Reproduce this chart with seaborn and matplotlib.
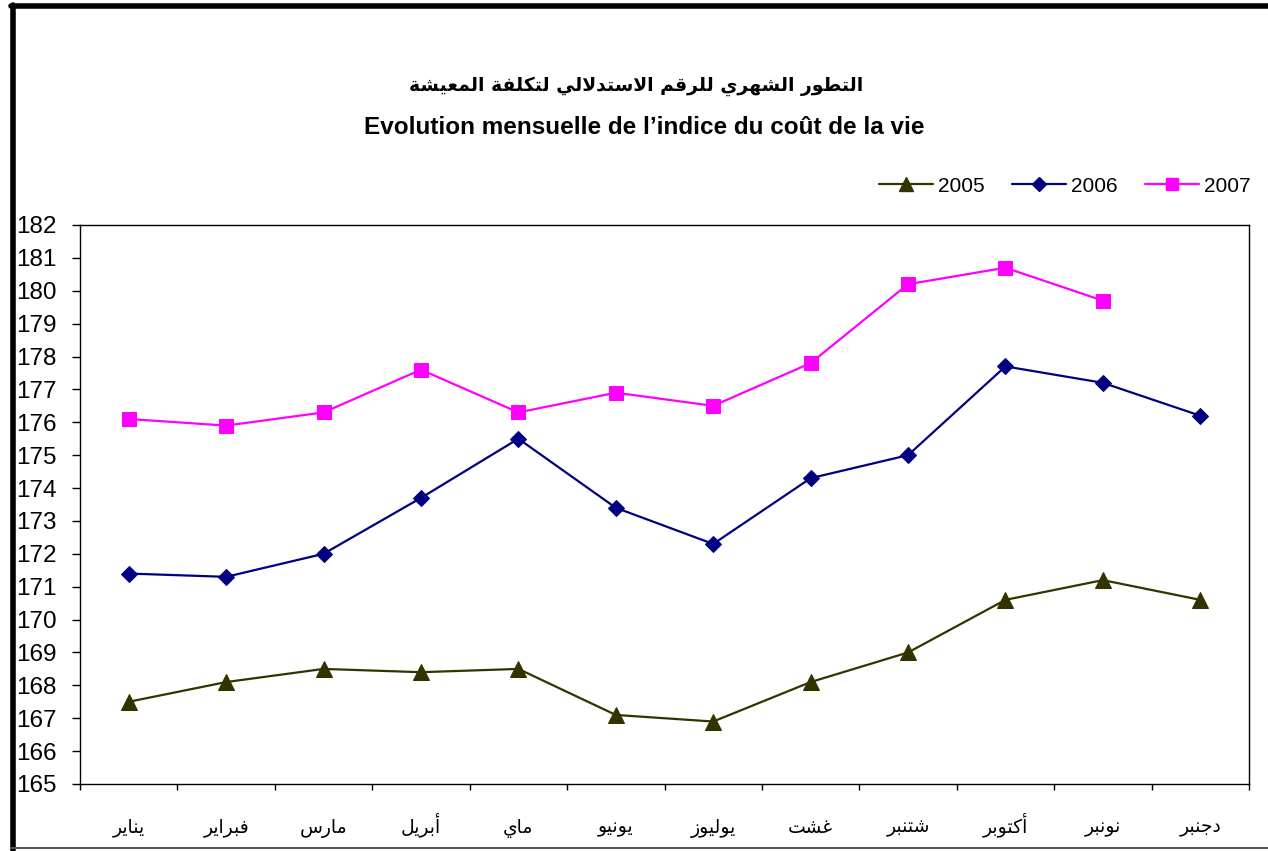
import pandas as pd
import matplotlib.pyplot as plt
import seaborn as sns
from matplotlib.lines import Line2D

# Données
mois = ['يناير', 'فبراير', 'مارس', 'أبريل', 'ماي', 'يونيو',
        'يوليوز', 'غشت', 'شتنبر', 'أكتوبر', 'نونبر', 'دجنبر']
v2005 = [167.5, 168.1, 168.5, 168.4, 168.5, 167.1, 166.9, 168.1, 169.0, 170.6, 171.2, 170.6]
v2006 = [171.4, 171.3, 172.0, 173.7, 175.5, 173.4, 172.3, 174.3, 175.0, 177.7, 177.2, 176.2]
v2007 = [176.1, 175.9, 176.3, 177.6, 176.3, 176.9, 176.5, 177.8, 180.2, 180.7, 179.7]
titre_ar = 'التطور الشهري للرقم الاستدلالي لتكلفة المعيشة'
titre_fr = 'Evolution mensuelle de l’indice du coût de la vie'

# Formes contextuelles arabes (isolée, finale, initiale, médiane)
FORMS = {
    'ا': (0xFE8D, 0xFE8E, None, None), 'أ': (0xFE83, 0xFE84, None, None),
    'ب': (0xFE8F, 0xFE90, 0xFE91, 0xFE92), 'ة': (0xFE93, 0xFE94, None, None),
    'ت': (0xFE95, 0xFE96, 0xFE97, 0xFE98), 'ج': (0xFE9D, 0xFE9E, 0xFE9F, 0xFEA0),
    'د': (0xFEA9, 0xFEAA, None, None), 'ر': (0xFEAD, 0xFEAE, None, None),
    'ز': (0xFEAF, 0xFEB0, None, None), 'س': (0xFEB1, 0xFEB2, 0xFEB3, 0xFEB4),
    'ش': (0xFEB5, 0xFEB6, 0xFEB7, 0xFEB8), 'ط': (0xFEC1, 0xFEC2, 0xFEC3, 0xFEC4),
    'ع': (0xFEC9, 0xFECA, 0xFECB, 0xFECC), 'غ': (0xFECD, 0xFECE, 0xFECF, 0xFED0),
    'ف': (0xFED1, 0xFED2, 0xFED3, 0xFED4), 'ق': (0xFED5, 0xFED6, 0xFED7, 0xFED8),
    'ك': (0xFED9, 0xFEDA, 0xFEDB, 0xFEDC), 'ل': (0xFEDD, 0xFEDE, 0xFEDF, 0xFEE0),
    'م': (0xFEE1, 0xFEE2, 0xFEE3, 0xFEE4), 'ن': (0xFEE5, 0xFEE6, 0xFEE7, 0xFEE8),
    'ه': (0xFEE9, 0xFEEA, 0xFEEB, 0xFEEC), 'و': (0xFEED, 0xFEEE, None, None),
    'ي': (0xFEF1, 0xFEF2, 0xFEF3, 0xFEF4),
}
LAMALEF = {'ا': (0xFEFB, 0xFEFC), 'أ': (0xFEF7, 0xFEF8)}


def arabe(texte):
    out = []
    i = 0
    prev_joint = False
    while i < len(texte):
        c = texte[i]
        if c not in FORMS:
            out.append(c)
            prev_joint = False
            i += 1
            continue
        nxt = texte[i + 1] if i + 1 < len(texte) else ''
        if c == 'ل' and nxt in LAMALEF:
            iso, fin = LAMALEF[nxt]
            out.append(chr(fin if prev_joint else iso))
            prev_joint = False
            i += 2
            continue
        iso, fin, ini, med = FORMS[c]
        joint_suiv = ini is not None and nxt in FORMS
        if prev_joint and joint_suiv:
            g = med
        elif prev_joint:
            g = fin
        elif joint_suiv:
            g = ini
        else:
            g = iso
        out.append(chr(g))
        prev_joint = ini is not None
        i += 1
    return ''.join(out)[::-1]


sns.set_style('white')
plt.rcParams['font.family'] = ['Liberation Sans', 'DejaVu Sans']
plt.rcParams['text.color'] = 'black'
plt.rcParams['xtick.color'] = 'black'
plt.rcParams['ytick.color'] = 'black'

rows = []
for annee, vals in [('2005', v2005), ('2006', v2006), ('2007', v2007)]:
    for k, v in enumerate(vals):
        rows.append({'mois': k, 'indice': v, 'annee': annee})
df = pd.DataFrame(rows)

couleurs = {'2005': '#333300', '2006': '#000080', '2007': '#FF00FF'}
marqueurs = {'2005': '^', '2006': 'D', '2007': 's'}
tailles = {'2005': 11.5, '2006': 8, '2007': 10}

fig = plt.figure(figsize=(12.68, 8.51), dpi=100)
ax = fig.add_axes([80 / 1268, 1 - 784 / 851, (1249 - 80) / 1268, (784 - 225) / 851])

for annee in ['2005', '2006', '2007']:
    sns.lineplot(data=df[df['annee'] == annee], x='mois', y='indice', ax=ax,
                 color=couleurs[annee], marker=marqueurs[annee],
                 markersize=tailles[annee], markeredgecolor=couleurs[annee],
                 linewidth=1.6, label=annee, legend=False)

ax.set_xlim(-0.5, 11.5)
ax.set_ylim(165, 182)
ax.set_yticks(range(165, 183))
ax.set_xticks(range(12))
ax.set_xticklabels([arabe(m) for m in mois], fontfamily='DejaVu Sans', fontsize=13.5,
                   va='baseline')
ax.set_xticks([k + 0.5 for k in range(-1, 12)], minor=True)
ax.tick_params(axis='x', which='major', length=0, pad=35, bottom=True)
ax.tick_params(axis='x', which='minor', length=4.5, width=1, bottom=True, direction='out')
ax.tick_params(axis='y', length=6, width=1, left=True, direction='out', labelsize=17.5, pad=11)
ax.set_xlabel('')
ax.set_ylabel('')
for s in ax.spines.values():
    s.set_visible(True)
    s.set_color('black')
    s.set_linewidth(1)

# Légende
handles = [Line2D([], [], color=couleurs[a], marker=marqueurs[a], markersize=tailles[a] - 1,
                  linewidth=1.6) for a in ['2005', '2006', '2007']]
fig.legend(handles, ['2005', '2006', '2007'], loc='center right',
           bbox_to_anchor=(1251 / 1268, 1 - 186 / 851), ncol=3, frameon=False,
           fontsize=15, handlelength=2.6, columnspacing=1.3, handletextpad=0.25,
           borderpad=0, borderaxespad=0)

# Titres
fig.text(636 / 1268, 1 - 86 / 851, arabe(titre_ar), ha='center', va='center',
         fontsize=13.5, fontweight='bold', fontfamily='DejaVu Sans')
fig.text(644 / 1268, 1 - 127 / 851, titre_fr, ha='center', va='center',
         fontsize=17.5, fontweight='bold')

# Cadre
fig.add_artist(Line2D([12.5 / 1268, 12.5 / 1268], [1 - 850 / 851, 1 - 5 / 851],
                      color='black', linewidth=4, transform=fig.transFigure))
fig.add_artist(Line2D([10.5 / 1268, 1.0], [1 - 5.5 / 851, 1 - 5.5 / 851],
                      color='black', linewidth=4, transform=fig.transFigure))
fig.add_artist(Line2D([10.5 / 1268, 1.0], [1 - 848 / 851, 1 - 848 / 851],
                      color='#555555', linewidth=1.5, transform=fig.transFigure))

plt.savefig('out.png', dpi=100)
plt.close()
